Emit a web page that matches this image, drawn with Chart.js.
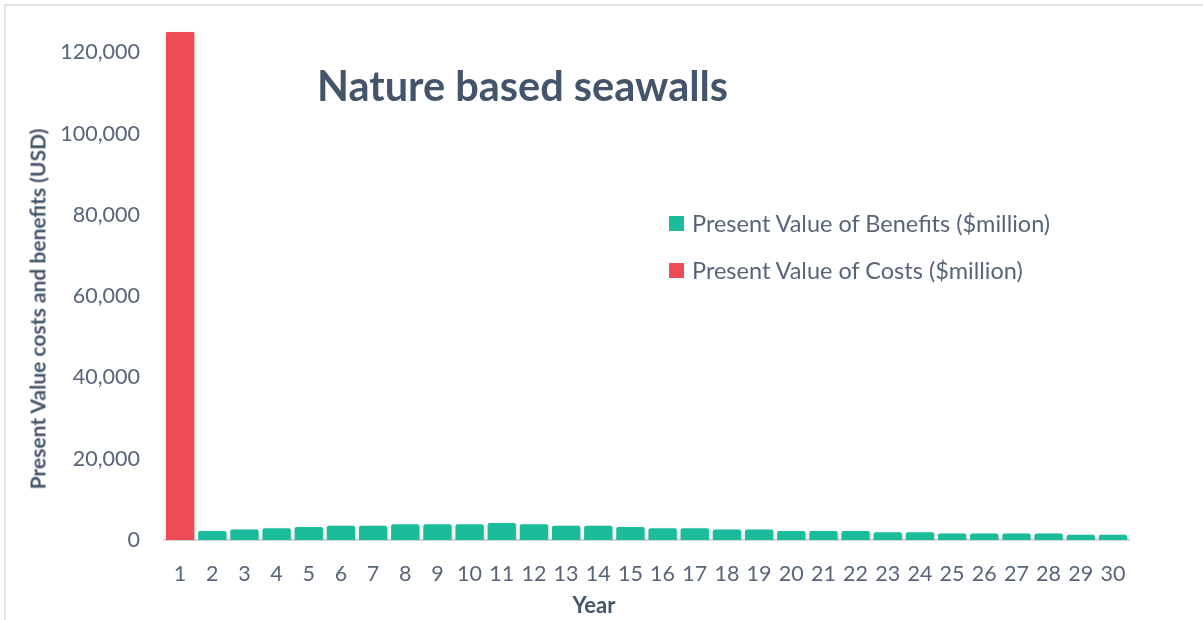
<!DOCTYPE html>
<html>
<head>
<meta charset="utf-8">
<script src="https://cdn.jsdelivr.net/npm/chart.js@4"></script>
<style>
  body { margin: 0; background: #fff; font-family: Lato, "Open Sans", sans-serif; }
  #wrap { position: relative; width: 1203px; height: 620px; overflow: hidden; }
  #wrap:before { content: ""; position: absolute; left: 4px; top: 4px; right: 0; bottom: 0;
    border-top: 2px solid #dfe4ea; border-left: 2px solid #dfe4ea; }
  #chart { position: absolute; left: 0; top: 0; }
  .txt { position: absolute; white-space: nowrap; color: #44546a; }
  #title { left: 317px; top: 60px; font-size: 41.5px; font-weight: bold; line-height: 50px; }
  #ytitle { left: 37px; top: 309px; font-size: 21px; font-weight: bold;
    transform: translate(-50%, -50%) rotate(-90deg); }
  #xtitle { left: 594px; top: 604px; font-size: 22px; font-weight: bold; transform: translate(-50%, -50%); }
  #legend { position: absolute; left: 669px; top: 208px; }
  .item { display: flex; align-items: center; height: 30px; margin-bottom: 17px;
    font-size: 23.5px; color: #586579; }
  .box { width: 15px; height: 15px; margin-right: 8px; }
</style>
</head>
<body>
<div id="wrap">
  <canvas id="chart" width="1203" height="620"></canvas>
  <div class="txt" id="title">Nature based seawalls</div>
  <div class="txt" id="ytitle">Present Value costs and benefits (USD)</div>
  <div class="txt" id="xtitle">Year</div>
  <div id="legend"></div>
</div>
<script>
const years = ["1", "2", "3", "4", "5", "6", "7", "8", "9", "10",
  "11", "12", "13", "14", "15", "16", "17", "18", "19", "20",
  "21", "22", "23", "24", "25", "26", "27", "28", "29", "30"];

const benefits = [0, 2200, 2600, 2900, 3200, 3500, 3500, 3900, 3900, 3900,
  4200, 3900, 3500, 3500, 3200, 2900, 2900, 2600, 2600, 2200,
  2200, 2200, 1900, 1900, 1600, 1600, 1600, 1600, 1300, 1300];

const costs = [125000, 0, 0, 0, 0, 0, 0, 0, 0, 0,
  0, 0, 0, 0, 0, 0, 0, 0, 0, 0,
  0, 0, 0, 0, 0, 0, 0, 0, 0, 0];

const yTicks = [0, 20000, 40000, 60000, 80000, 100000, 120000];

const tickFont = { family: "Lato, 'Open Sans', sans-serif", size: 21.5 };
const tickColor = "#586579";

// soft shadow under the bars, like the original
const barShadow = {
  id: "barShadow",
  beforeDatasetsDraw(chart) {
    const c = chart.ctx;
    c.save();
    c.shadowColor = "rgba(0,0,0,0.18)";
    c.shadowBlur = 3;
    c.shadowOffsetX = 1;
    c.shadowOffsetY = 1;
  },
  afterDatasetsDraw(chart) {
    chart.ctx.restore();
  },
};

const ctx = document.querySelector("#chart").getContext("2d");

const myChart = new Chart(ctx, {
  type: "bar",
  data: {
    labels: years,
    datasets: [
      {
        label: "Present Value of Benefits ($million)",
        data: benefits,
        backgroundColor: "#1abc9c",
        borderRadius: 2,
      },
      {
        label: "Present Value of Costs ($million)",
        data: costs,
        backgroundColor: "#ef4b56",
        borderRadius: 1,
      },
    ],
  },
  options: {
    responsive: false,
    animation: false,
    layout: { padding: { left: 0, right: 74, top: 28, bottom: 0 } },
    plugins: {
      legend: { display: false },
      tooltip: { enabled: false },
    },
    datasets: {
      bar: { categoryPercentage: 1, barPercentage: 0.88 },
    },
    scales: {
      x: {
        stacked: true,
        grid: { display: false, drawTicks: false },
        border: { display: true, color: "#d9d9d9", width: 2 },
        ticks: { font: tickFont, color: tickColor, padding: 21, maxRotation: 0, autoSkip: false },
        afterFit(scale) {
          scale.height = 80;
        },
      },
      y: {
        stacked: true,
        min: 0,
        max: 126000,
        grid: { display: false, drawTicks: false },
        border: { display: false },
        ticks: {
          font: tickFont,
          color: tickColor,
          padding: 24,
          callback: function (value) {
            return value.toLocaleString("en-US");
          },
        },
        afterBuildTicks(scale) {
          scale.ticks = yTicks.map((v) => ({ value: v }));
        },
        afterFit(scale) {
          scale.width = 164;
          scale.paddingTop = 0;
          scale.paddingBottom = 0;
        },
      },
    },
  },
  plugins: [barShadow],
});

// legend from the chart's own datasets
const legend = document.querySelector("#legend");
myChart.data.datasets.forEach((ds) => {
  const item = document.createElement("div");
  item.className = "item";
  const box = document.createElement("span");
  box.className = "box";
  box.style.background = ds.backgroundColor;
  item.appendChild(box);
  item.appendChild(document.createTextNode(ds.label));
  legend.appendChild(item);
});
</script>
</body>
</html>
